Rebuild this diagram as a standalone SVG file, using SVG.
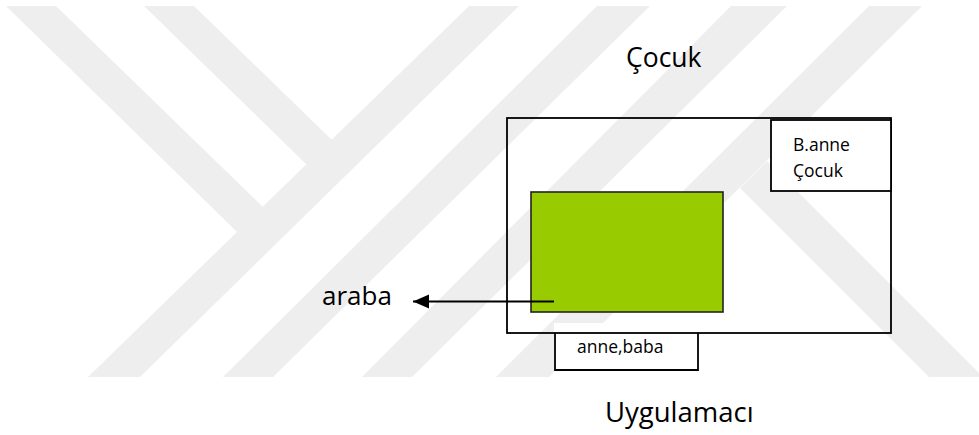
<svg xmlns="http://www.w3.org/2000/svg" width="979" height="435" viewBox="0 0 979 435">
  <style>
    .wm { fill: #EEEEEE; stroke: none; }
    .box { fill: #FFFFFF; stroke: #000000; stroke-width: 1.8; }
    .frame { fill: none; stroke: #000000; stroke-width: 1.8; }
    .green { fill: #99CC00; stroke: #222222; stroke-width: 1.6; }
    .t { font-family: "Open Sans", "DejaVu Sans", sans-serif; fill: #000000; }
    .big { font-size: 26.5px; }
    .small { font-size: 17.5px; }
    .conn { stroke: #000000; stroke-width: 2.2; fill: none; }
  </style>
  <defs>
    <marker id="arrow" markerUnits="userSpaceOnUse" markerWidth="18" markerHeight="16" refX="16" refY="7" orient="auto">
      <path d="M0,0 L16,7 L0,14 Z" fill="#000000"/>
    </marker>
  </defs>

  <rect x="0" y="0" width="979" height="435" fill="#FFFFFF"/>

  <g id="watermark">
    <polygon class="wm" points="6,6 56,6 263,207 237,232"/>
    <polygon class="wm" points="144,6 194,6 332,140 307,165"/>
    <polygon class="wm" points="469,6 519,6 140,377 88,377"/>
    <polygon class="wm" points="597,6 650,6 273,377 223,377"/>
    <polygon class="wm" points="731,6 787,6 412,377 362,377"/>
    <polygon class="wm" points="869,6 922,6 549,377 496,377"/>
    <polygon class="wm" points="740,188 767,161 983,377 929,377"/>
  </g>

  <g id="node-cocuk-title">
    <text class="t big" x="626" y="67">Çocuk</text>
  </g>

  <g id="node-annebaba">
    <rect x="554" y="323" width="145" height="47" fill="#FFFFFF" stroke="none"/>
    <path class="frame" d="M555,333 V370 H698 V333"/>
    <text class="t small" x="577" y="353">anne,baba</text>
  </g>

  <g id="node-outer">
    <rect class="frame" x="507" y="118" width="384" height="215"/>
  </g>

  <g id="node-banne">
    <rect class="box" x="771" y="120" width="120" height="71"/>
    <text class="t small" x="793" y="151">B.anne</text>
    <text class="t small" x="793" y="177">Çocuk</text>
  </g>

  <g id="node-green">
    <rect class="green" x="531" y="192" width="192" height="120"/>
  </g>

  <g id="node-araba">
    <text class="t" font-size="26px" x="322" y="305">araba</text>
  </g>

  <g id="node-uygulamaci">
    <text class="t" font-size="27.5px" x="605" y="422">Uygulamacı</text>
  </g>

  <g id="connectors">
    <line class="conn" x1="554" y1="301.5" x2="413" y2="301.5" marker-end="url(#arrow)"/>
  </g>
</svg>
